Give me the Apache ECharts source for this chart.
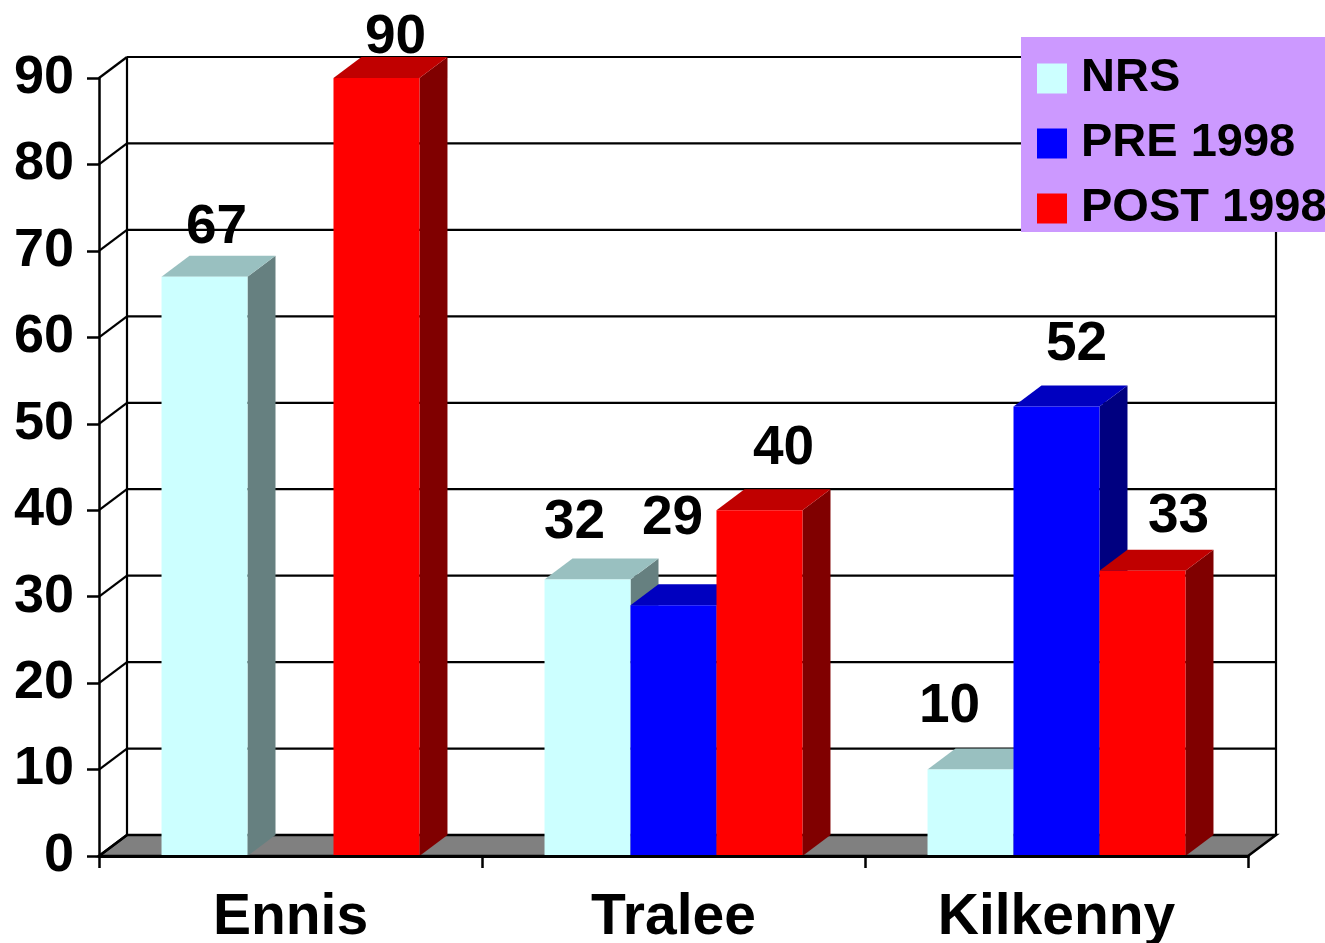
<!DOCTYPE html>
<html>
<head>
<meta charset="utf-8">
<script src="https://cdn.jsdelivr.net/npm/echarts@6/dist/echarts.min.js"></script>
<style>
  html, body { margin: 0; padding: 0; background: #fff; }
  #main { width: 1325px; height: 943px; }
</style>
</head>
<body>
<div id="main"></div>
<script>
// data
var categories = ['Ennis', 'Tralee', 'Kilkenny'];
var nrs = [67, 32, 10];
var pre1998 = [null, 29, 52];
var post1998 = [90, 40, 33];
var yTicks = [0, 10, 20, 30, 40, 50, 60, 70, 80, 90];

var DX = 28, DY = 21;          // 3d depth offset
var FONT = '"Liberation Sans", Arial, sans-serif';

// small pixel nudges for the value labels, the way the original placed them
var nudgeNrs = [[-2, 8], [-27, 0], [-35, -6]];
var nudgePre = [[0, 0], [-15, -29], [6, -5]];
var nudgePost = [[5, -1], [10, -4], [22, 3]];

var chart = echarts.init(document.getElementById('main'));

function barSeries(name, values, slot, front, top, side, nudge) {
    return {
        name: name,
        type: 'custom',
        z: 5,
        itemStyle: { color: front },
        encode: { x: 0, y: 1 },
        data: values.map(function (v, i) { return [i, v]; })
                    .filter(function (d) { return d[1] != null; }),
        renderItem: function (params, api) {
            var idx = api.value(0);
            var v = api.value(1);
            var band = api.size([1, 0])[0];
            var w = band * 0.2245;
            var c = api.coord([idx, v]);
            var base = api.coord([idx, 0]);
            var x0 = c[0] + (slot - 1.5) * w;
            var yt = c[1], yb = base[1];
            var n = nudge[idx] || [0, 0];
            var labelY = Math.max(yt - DY - 36, 39) + n[1];
            var labelX = x0 + w / 2 + DX / 2 + n[0];
            return {
                type: 'group',
                children: [
                    { type: 'polygon', shape: { points: [[x0 + w, yt], [x0 + w + DX, yt - DY], [x0 + w + DX, yb - DY], [x0 + w, yb]] },
                      style: { fill: side } },
                    { type: 'polygon', shape: { points: [[x0, yt], [x0 + w, yt], [x0 + w + DX, yt - DY], [x0 + DX, yt - DY]] },
                      style: { fill: top } },
                    { type: 'rect', shape: { x: x0, y: yt, width: w, height: yb - yt },
                      style: { fill: front } },
                    { type: 'text', x: labelX, y: labelY,
                      style: { text: String(v), font: 'bold 55px ' + FONT, fill: '#000',
                               align: 'center', verticalAlign: 'middle' } }
                ]
            };
        }
    };
}

// walls and floor
var wallSeries = {
    type: 'custom',
    z: 1,
    silent: true,
    data: [[0, 0]],
    encode: { x: 0, y: 1 },
    renderItem: function (params, api) {
        var cs = params.coordSys;
        var L = cs.x, R = cs.x + cs.width;
        var y0 = api.coord([0, 0])[1];
        var yTop = api.coord([0, yTicks[yTicks.length - 1]])[1];
        var ls = { stroke: '#000', lineWidth: 2.2 };
        var children = [];
        children.push({ type: 'polygon',
            shape: { points: [[L, y0], [R, y0], [R + DX, y0 - DY], [L + DX, y0 - DY]] },
            style: { fill: '#808080', stroke: '#000', lineWidth: 2.5 } });
        yTicks.forEach(function (t) {
            var y = api.coord([0, t])[1];
            if (t > 0) {
                children.push({ type: 'line', shape: { x1: L + DX, y1: y - DY, x2: R + DX, y2: y - DY }, style: ls });
            }
            children.push({ type: 'line', shape: { x1: L, y1: y, x2: L + DX, y2: y - DY }, style: ls });
        });
        children.push({ type: 'line', shape: { x1: L + DX, y1: yTop - DY, x2: L + DX, y2: y0 - DY }, style: ls });
        children.push({ type: 'line', shape: { x1: R + DX, y1: yTop - DY, x2: R + DX, y2: y0 - DY }, style: ls });
        return { type: 'group', children: children };
    }
};

chart.setOption({
    animation: false,
    backgroundColor: '#fff',
    grid: { left: 99, right: 77, top: 78, bottom: 87, outerBoundsMode: 'none', containLabel: false },
    legend: {
        orient: 'vertical',
        left: 1021,
        top: 37,
        data: ['NRS', 'PRE 1998', 'POST 1998'],
        backgroundColor: '#CC99FF',
        padding: [18, 40, 0, 16],
        itemWidth: 30,
        itemHeight: 30,
        itemGap: 18,
        icon: 'rect',
        selectedMode: false,
        textStyle: { fontFamily: FONT, fontSize: 47, fontWeight: 'bold', color: '#000',
                     lineHeight: 47, padding: [0, 0, 0, 9] }
    },
    xAxis: {
        type: 'category',
        data: categories,
        z: 10,
        axisLine: { show: true, lineStyle: { color: '#000', width: 3 } },
        axisTick: { show: true, length: 12, lineStyle: { color: '#000', width: 2.5 } },
        axisLabel: { fontFamily: FONT, fontSize: 57, fontWeight: 'bold', color: '#000',
                     margin: 62, verticalAlign: 'middle' },
        splitLine: { show: false }
    },
    yAxis: {
        type: 'value',
        min: 0, max: 90, interval: 10,
        z: 10,
        axisLine: { show: true, lineStyle: { color: '#000', width: 2.5 } },
        axisTick: { show: true, length: 12, lineStyle: { color: '#000', width: 2.5 } },
        axisLabel: { fontFamily: FONT, fontSize: 54, fontWeight: 'bold', color: '#000', margin: 25 },
        splitLine: { show: false }
    },
    series: [
        wallSeries,
        barSeries('NRS', nrs, 0, '#CCFFFF', '#99C0C0', '#668080', nudgeNrs),
        barSeries('PRE 1998', pre1998, 1, '#0000FF', '#0000C0', '#000080', nudgePre),
        barSeries('POST 1998', post1998, 2, '#FF0000', '#C00000', '#800000', nudgePost)
    ]
});
</script>
</body>
</html>
